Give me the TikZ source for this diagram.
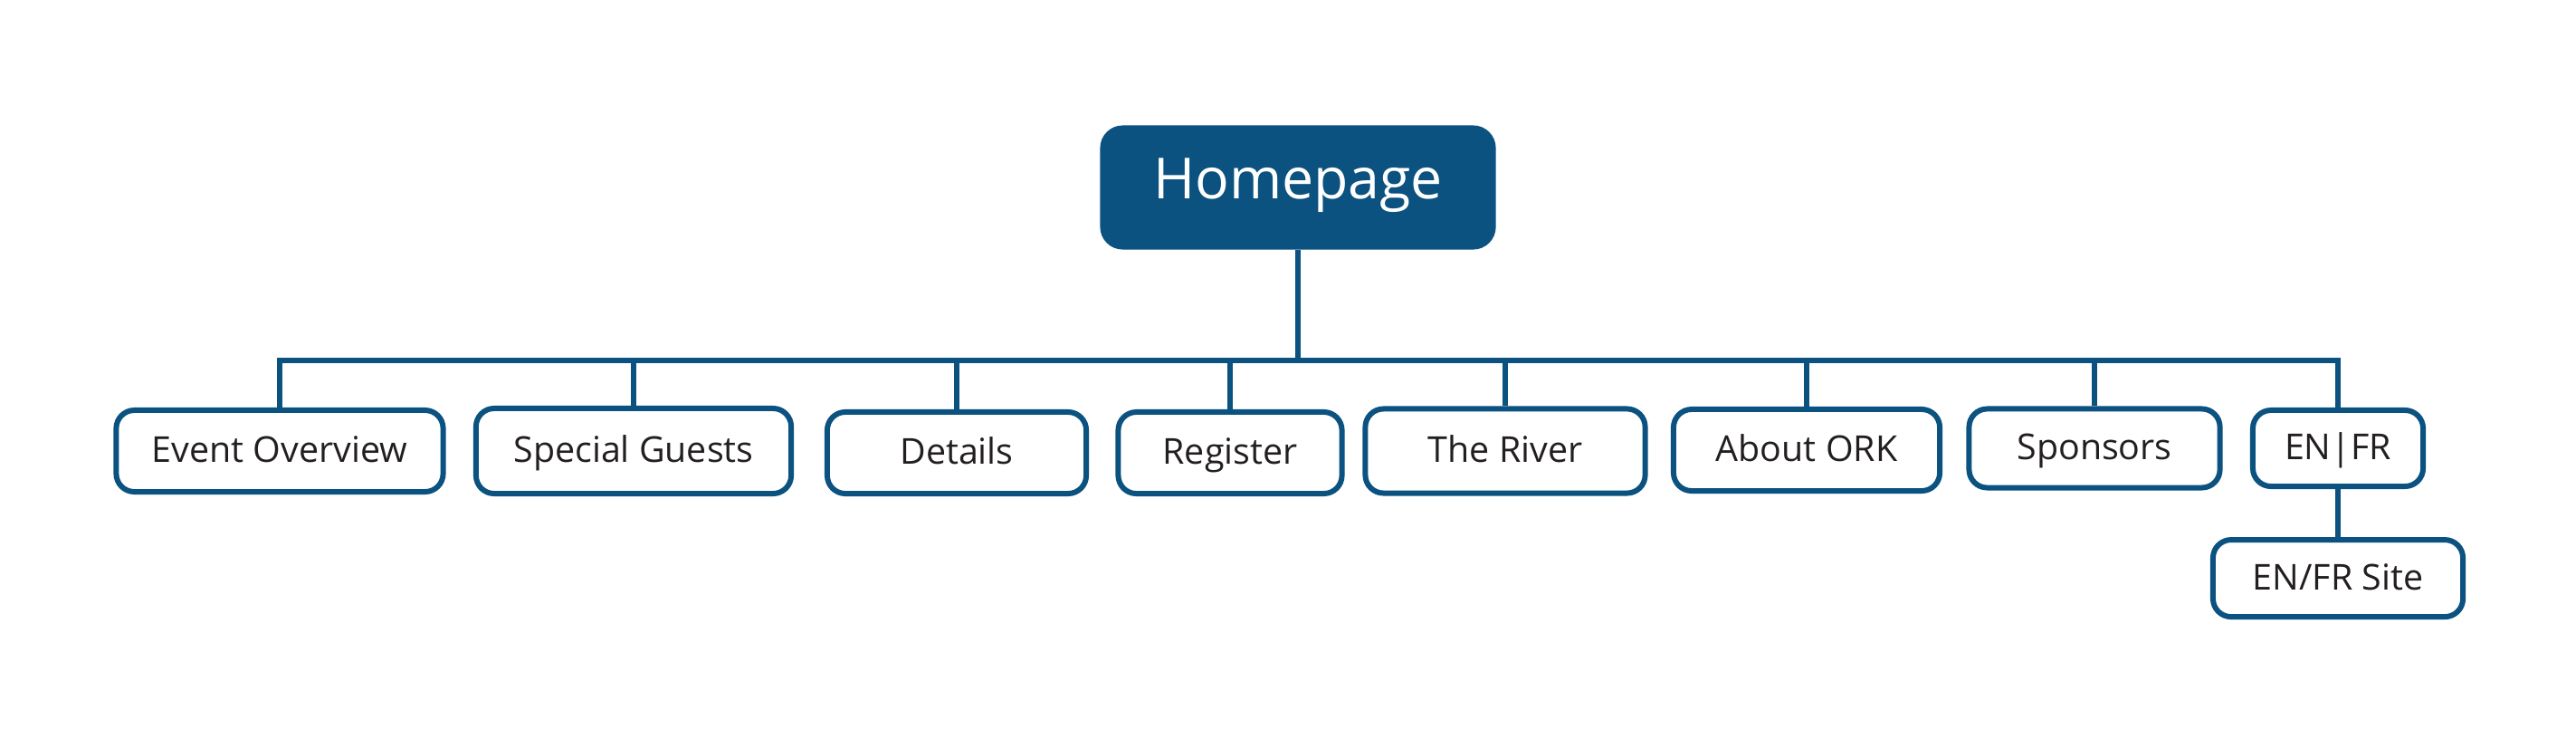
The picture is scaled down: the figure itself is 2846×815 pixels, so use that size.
\documentclass[tikz,border=0pt]{standalone}
\usepackage{fontspec}
\setmainfont{Open Sans}
\usepackage{xcolor}
\usetikzlibrary{positioning}
\definecolor{orkblue}{RGB}{11,82,128}
\definecolor{orktext}{RGB}{35,31,32}

\begin{document}
\begin{tikzpicture}[x=0.01cm,y=-0.01cm,line width=1.7pt,draw=orkblue,
    home node/.style={rectangle,rounded corners=0.22cm,fill=orkblue,draw=orkblue,text=white,font=\fontsize{17.8}{22}\selectfont,text height=0.72em,text depth=0pt,minimum width=4.31cm,minimum height=1.31cm},
    page node/.style={rectangle,rounded corners=0.2cm,draw=orkblue,fill=white,text=orktext,font=\fontsize{11.2}{13}\selectfont,text height=0.72em,text depth=0pt,minimum height=0.90cm}]
    \useasboundingbox (0,0) rectangle (2846,815);

    \node[home node] (home) at (1434,207) {Homepage};

    \node[page node,minimum width=3.61cm] (overview) at (309,498) {Event Overview};
    \node[page node,minimum width=3.48cm,minimum height=0.94cm] (guests) at (700,498) {Special Guests};
    \node[page node,minimum width=2.86cm] (details) at (1057,500) {Details};
    \node[page node,minimum width=2.47cm] (register) at (1359,500) {Register};
    \node[page node,minimum width=3.09cm,minimum height=0.93cm] (river) at (1663,498) {The River};
    \node[page node,minimum width=2.94cm] (about) at (1996,497) {About ORK};
    \node[page node,minimum width=2.77cm,minimum height=0.87cm] (sponsors) at (2314,495) {Sponsors};
    \node[page node,minimum width=1.88cm,minimum height=0.84cm] (enfr) at (2583,495) {EN|FR};
    \node[page node,minimum width=2.76cm,minimum height=0.85cm] (site) [below=0.53cm of enfr] {EN/FR Site};

    \draw (home.south) -- ++(0,122) coordinate (bus);
    \foreach \n in {overview,guests,details,register,river,about,sponsors,enfr}
        \draw (bus) -| (\n.north);
    \draw (enfr.south) -- (enfr.south |- site.north);

\end{tikzpicture}
\end{document}
